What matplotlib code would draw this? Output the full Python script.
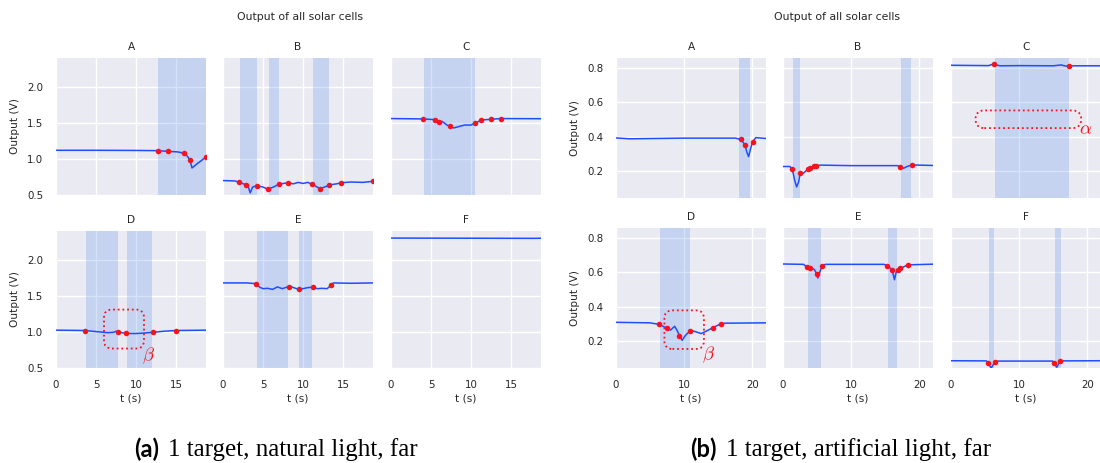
import matplotlib
matplotlib.use("Agg")
import matplotlib.pyplot as plt
import seaborn as sns
from matplotlib.patches import FancyBboxPatch

panels = ["A", "B", "C", "D", "E", "F"]

# ---- (a) natural light: trace knots, detected events, shaded windows ----
nat_t = {
    "A": [0, 5, 10, 12.7, 14.0, 15.2, 16.0, 16.4, 16.75, 17.0, 17.6, 18.2, 18.75],
    "B": [0, 1.5, 2.0, 2.85, 3.2, 3.4, 3.7, 4.2, 5.0, 5.6, 6.3, 7.0, 8.1, 8.8,
          9.4, 10.0, 10.6, 11.1, 11.7, 12.1, 12.7, 13.3, 14.2, 14.8, 16.0, 17.5, 18.75],
    "C": [0, 4.0, 5.5, 6.0, 6.4, 7.0, 7.4, 7.85, 8.5, 9.2, 10.0, 10.5, 11.3, 12.5, 13.7, 18.75],
    "D": [0, 3.6, 5.0, 6.5, 7.2, 7.5, 7.7, 8.2, 8.8, 10.0, 11.0, 12.1, 13.5, 15.0, 18.75],
    "E": [0, 3.0, 4.1, 4.6, 5.0, 5.6, 6.2, 6.8, 7.4, 8.2, 8.7, 9.45, 10.0, 10.6, 11.2,
          11.8, 12.4, 13.0, 13.5, 13.8, 16.0, 18.75],
    "F": [0, 9.0, 17.8, 18.75],
}
nat_v = {
    "A": [1.12, 1.12, 1.118, 1.115, 1.105, 1.098, 1.08, 1.04, 0.985, 0.875, 0.93, 0.98, 1.03],
    "B": [0.70, 0.695, 0.676, 0.643, 0.60, 0.53, 0.61, 0.63, 0.61, 0.58, 0.61, 0.65, 0.67, 0.655,
          0.675, 0.66, 0.675, 0.65, 0.615, 0.59, 0.61, 0.64, 0.655, 0.67, 0.68, 0.675, 0.69],
    "C": [1.56, 1.555, 1.545, 1.51, 1.52, 1.47, 1.45, 1.43, 1.45, 1.47, 1.47, 1.495, 1.54, 1.55, 1.56, 1.558],
    "D": [1.025, 1.02, 1.005, 0.99, 0.995, 1.01, 1.0, 0.99, 0.98, 0.978, 0.985, 0.995, 1.01, 1.02, 1.025],
    "E": [1.68, 1.68, 1.67, 1.62, 1.60, 1.605, 1.59, 1.625, 1.60, 1.63, 1.62, 1.59, 1.60, 1.615, 1.62,
          1.60, 1.605, 1.60, 1.645, 1.68, 1.675, 1.68],
    "F": [2.302, 2.30, 2.298, 2.30],
}
nat_mark_t = {
    "A": [12.7, 14.0, 16.0, 16.75, 18.7],
    "B": [2.0, 2.85, 4.2, 5.6, 7.0, 8.1, 11.1, 12.1, 13.3, 14.8, 18.7],
    "C": [4.0, 5.5, 6.0, 7.4, 10.5, 11.3, 12.5, 13.7],
    "D": [3.6, 7.7, 8.8, 12.1, 15.0],
    "E": [4.1, 8.2, 9.45, 11.2, 13.5],
    "F": [],
}
nat_mark_v = {
    "A": [1.115, 1.105, 1.08, 0.985, 1.028],
    "B": [0.676, 0.643, 0.63, 0.58, 0.65, 0.67, 0.65, 0.59, 0.64, 0.67, 0.688],
    "C": [1.555, 1.545, 1.51, 1.45, 1.495, 1.54, 1.55, 1.56],
    "D": [1.02, 1.0, 0.98, 0.995, 1.02],
    "E": [1.67, 1.63, 1.59, 1.62, 1.645],
    "F": [],
}
nat_spans = {
    "A": [(12.8, 18.75)],
    "B": [(2.1, 4.2), (5.7, 7.0), (11.2, 13.3)],
    "C": [(4.17, 10.5)],
    "D": [(3.7, 7.7), (8.9, 12.0)],
    "E": [(4.25, 8.1), (9.5, 11.1)],
    "F": [],
}
nat_xlim = (0, 18.75)
nat_ylim = (0.5, 2.4)
nat_xticks = [0, 5, 10, 15]
nat_yticks = [0.5, 1.0, 1.5, 2.0]

# ---- (b) artificial light ----
art_t = {
    "A": [0, 2, 10, 17.5, 18.3, 18.9, 19.2, 19.45, 19.8, 20.05, 20.5, 22],
    "B": [0, 1.0, 1.37, 1.7, 2.0, 2.3, 2.5, 3.0, 3.7, 4.0, 4.6, 4.8, 5.5, 10, 16.8,
          17.2, 17.7, 18.2, 18.9, 22],
    "C": [0, 5.5, 6.3, 6.6, 7.2, 10, 15, 16.2, 16.5, 17.35, 18, 22],
    "D": [0, 5.0, 6.3, 7.0, 7.55, 8.0, 8.6, 9.0, 9.3, 9.7, 10.2, 10.9, 11.5, 12.5, 13.4,
          14.2, 15.4, 16, 22],
    "E": [0, 3.0, 3.5, 4.0, 4.6, 4.95, 5.1, 5.4, 5.7, 6.2, 14.8, 15.3, 16.0, 16.35, 16.6,
          16.9, 17.2, 18.3, 22],
    "F": [0, 5.2, 5.45, 5.9, 6.4, 6.8, 14.9, 15.15, 15.5, 16.0, 16.4, 22],
}
art_v = {
    "A": [0.393, 0.388, 0.392, 0.392, 0.385, 0.354, 0.31, 0.285, 0.34, 0.371, 0.395, 0.39],
    "B": [0.228, 0.228, 0.214, 0.15, 0.11, 0.14, 0.188, 0.19, 0.214, 0.218, 0.229, 0.232,
          0.236, 0.233, 0.233, 0.227, 0.218, 0.228, 0.237, 0.234],
    "C": [0.813, 0.811, 0.821, 0.815, 0.81, 0.811, 0.81, 0.815, 0.811, 0.806, 0.81, 0.81],
    "D": [0.31, 0.307, 0.298, 0.285, 0.275, 0.265, 0.287, 0.26, 0.233, 0.206, 0.235, 0.262,
          0.258, 0.245, 0.262, 0.279, 0.302, 0.305, 0.307],
    "E": [0.647, 0.645, 0.629, 0.625, 0.615, 0.589, 0.566, 0.6, 0.633, 0.645, 0.645, 0.638,
          0.614, 0.556, 0.6, 0.614, 0.621, 0.642, 0.646],
    "F": [0.088, 0.087, 0.075, 0.046, 0.078, 0.086, 0.086, 0.075, 0.05, 0.085, 0.087, 0.088],
}
art_mark_t = {
    "A": [18.3, 18.9, 20.05],
    "B": [1.37, 2.5, 3.7, 4.0, 4.6, 4.8, 17.2, 18.9],
    "C": [6.3, 17.35],
    "D": [6.3, 7.55, 9.3, 10.9, 14.2, 15.4],
    "E": [3.5, 4.0, 4.95, 5.7, 15.3, 16.0, 16.9, 17.2, 18.3],
    "F": [5.45, 6.4, 15.15, 16.0],
}
art_mark_v = {
    "A": [0.385, 0.354, 0.371],
    "B": [0.214, 0.188, 0.214, 0.218, 0.229, 0.232, 0.227, 0.237],
    "C": [0.821, 0.806],
    "D": [0.298, 0.275, 0.233, 0.262, 0.279, 0.302],
    "E": [0.629, 0.625, 0.589, 0.633, 0.638, 0.614, 0.614, 0.621, 0.642],
    "F": [0.075, 0.078, 0.075, 0.085],
}
art_spans = {
    "A": [(18.1, 19.7)],
    "B": [(1.47, 2.45), (17.3, 18.8)],
    "C": [(6.4, 17.3)],
    "D": [(6.4, 10.9)],
    "E": [(3.7, 5.6), (15.4, 16.7)],
    "F": [(5.5, 6.3), (15.2, 16.1)],
}
art_xlim = (0, 22)
art_ylim = (0.046, 0.855)
art_xticks = [0, 10, 20]
art_yticks = [0.2, 0.4, 0.6, 0.8]

# dotted annotation boxes: (panel, t0, t1, v0, v1, corner radius px, label, label t, label v)
nat_boxes = [("D", 6.0, 11.0, 0.77, 1.31, 8, r"$\beta$", 11.5, 0.675)]
art_boxes = [("C", 3.6, 19.1, 0.45, 0.552, 8.8, r"$\alpha$", 19.7, 0.445),
             ("D", 7.1, 12.9, 0.156, 0.379, 8, r"$\beta$", 13.5, 0.123)]

captions = [("(a)", "1 target, natural light, far"),
            ("(b)", "1 target, artificial light, far")]
suptitle = "Output of all solar cells"

# ---- styling ----
sns.set_theme(style="darkgrid")
plt.rcParams["font.family"] = ["DejaVu Sans", "Noto Sans"]
plt.rcParams["mathtext.fontset"] = "cm"

LINE = "#1f4dff"
DOT = "#f5141e"
SPAN = "#6495ed"
TXT = "#262626"
TICK_FS = 7.4
LAB_FS = 7.6
W, H = 1100, 463

fig = plt.figure(figsize=(11, 4.63), dpi=100)


def add_px_axes(left, top, right, bottom):
    return fig.add_axes([left / W, 1 - bottom / H, (right - left) / W, (bottom - top) / H])


def draw_group(cols, rows, tdict, vdict, mt, mv, spans, xlim, ylim, xticks, yticks, boxes):
    axes = {}
    for i, p in enumerate(panels):
        r, c = divmod(i, 3)
        left, right = cols[c]
        top, bottom = rows[r]
        ax = add_px_axes(left, top, right, bottom)
        axes[p] = ax
        ax.set_xlim(*xlim)
        ax.set_ylim(*ylim)
        ax.set_xticks(xticks)
        ax.set_yticks(yticks)
        for a, b in spans[p]:
            ax.axvspan(a, b, color=SPAN, alpha=0.27, lw=0, zorder=1)
        ax.plot(tdict[p], vdict[p], color=LINE, lw=1.1, zorder=3)
        if mt[p]:
            ax.plot(mt[p], mv[p], "o", color=DOT, ms=4.0, mew=0, zorder=4)
        ax.set_title(p, fontsize=LAB_FS, color=TXT, pad=6)
        ax.tick_params(labelsize=TICK_FS, colors=TXT, pad=3)
        if c == 0:
            ax.set_ylabel("Output (V)", fontsize=LAB_FS, color=TXT, labelpad=5)
        else:
            ax.tick_params(labelleft=False)
        if r == 1:
            ax.set_xlabel("t (s)", fontsize=LAB_FS, color=TXT, labelpad=2)
        else:
            ax.tick_params(labelbottom=False)
        for s in ax.spines.values():
            s.set_visible(False)

    for p, t0, t1, v0, v1, rad_px, lab, lt, lv in boxes:
        ax = axes[p]
        (l, rgt), (tp, bt) = cols[panels.index(p) % 3], rows[panels.index(p) // 3]
        xpp = (xlim[1] - xlim[0]) / (rgt - l)
        ypp = (ylim[1] - ylim[0]) / (bt - tp)
        box = FancyBboxPatch((t0, v0), t1 - t0, v1 - v0,
                             boxstyle=f"round,pad=0,rounding_size={rad_px * xpp}",
                             mutation_aspect=ypp / xpp, fill=False, ec=DOT,
                             ls=(0, (1, 1.6)), lw=1.3, zorder=5)
        ax.add_patch(box)
        ax.text(lt, lv, lab, color=DOT, fontsize=13.5, ha="center", va="center", zorder=6)
    return axes


draw_group([(56, 206), (223, 373), (391, 541)], [(58, 195), (231, 368)],
           nat_t, nat_v, nat_mark_t, nat_mark_v, nat_spans,
           nat_xlim, nat_ylim, nat_xticks, nat_yticks, nat_boxes)
draw_group([(616, 766), (783, 933), (951, 1101)], [(58, 198), (228, 368)],
           art_t, art_v, art_mark_t, art_mark_v, art_spans,
           art_xlim, art_ylim, art_xticks, art_yticks, art_boxes)

fig.text(300 / W, 1 - 17 / H, suptitle, fontsize=7.8, color=TXT, ha="center", va="center")
fig.text(837 / W, 1 - 17 / H, suptitle, fontsize=7.8, color=TXT, ha="center", va="center")

for (tag, cap), (xa, xb) in zip(captions, [(134, 168), (690, 726)]):
    fig.text(xa / W, 1 - 449 / H, tag, fontsize=17, fontweight="bold",
             family=["Lato", "DejaVu Sans"], color="black", ha="left", va="center")
    fig.text(xb / W, 1 - 450 / H, cap, fontsize=18, family=["Liberation Serif", "DejaVu Serif"],
             color="black", ha="left", va="center")

fig.savefig("out.png", dpi=100, facecolor="white")
